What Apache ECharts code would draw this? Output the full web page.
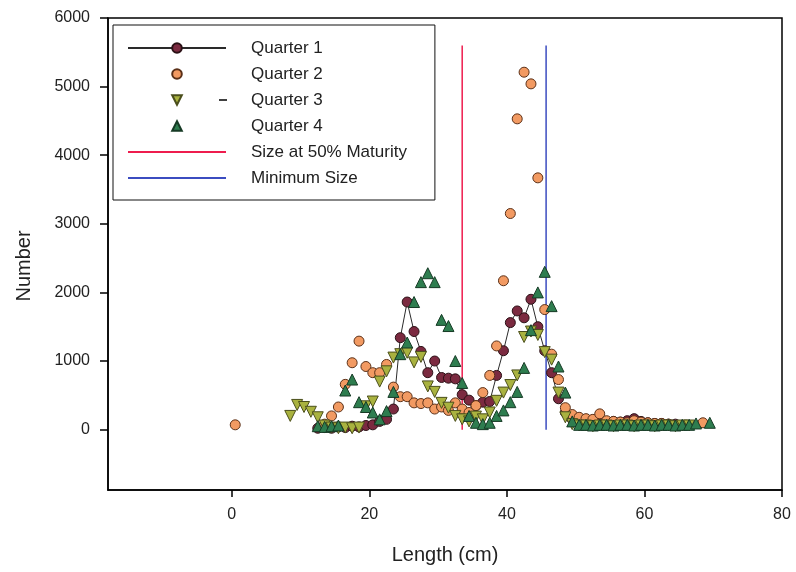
<!DOCTYPE html>
<html>
<head>
<meta charset="utf-8">
<script src="https://cdn.jsdelivr.net/npm/echarts@6/dist/echarts.min.js"></script>
<style>
  html, body { margin: 0; padding: 0; background: #fff; }
  #chart { width: 796px; height: 572px; }
</style>
</head>
<body>
<div id="chart"></div>
<script>
// length class (cm), number caught
const quarter1 = [
  [12.5, 20], [13.5, 30], [14.5, 20], [15.5, 40], [16.5, 30], [17.5, 50], [18.5, 40],
  [19.5, 60], [20.5, 70], [21.5, 120], [22.5, 150], [23.5, 300], [24.5, 1340], [25.5, 1860],
  [26.5, 1430], [27.5, 1140], [28.5, 830], [29.5, 1000], [30.5, 760], [31.5, 750],
  [32.5, 740], [33.5, 510], [34.5, 430], [35.5, 350], [36.5, 400], [37.5, 410],
  [38.5, 790], [39.5, 1150], [40.5, 1560], [41.5, 1730], [42.5, 1630], [43.5, 1900],
  [44.5, 1500], [45.5, 1150], [46.5, 830], [47.5, 450], [48.5, 250], [49.5, 150],
  [50.5, 120], [51.5, 110], [52.5, 100], [53.5, 100], [54.5, 110], [55.5, 120],
  [56.5, 110], [57.5, 130], [58.5, 160], [59.5, 120], [60.5, 100], [61.5, 90],
  [62.5, 90], [63.5, 80], [64.5, 80]
];
const quarter2 = [
  [0.5, 70], [13.5, 80], [14.5, 200], [15.5, 330], [16.5, 660], [17.5, 975], [18.5, 1290],
  [19.5, 920], [20.5, 830], [21.5, 830], [22.5, 950], [23.5, 620], [24.5, 480], [25.5, 480],
  [26.5, 390], [27.5, 380], [28.5, 390], [29.5, 300], [30.5, 330], [31.5, 280],
  [32.5, 390], [33.5, 300], [34.5, 250], [35.5, 350], [36.5, 540], [37.5, 790],
  [38.5, 1220], [39.5, 2170], [40.5, 3150], [41.5, 4530], [42.5, 5210], [43.5, 5040],
  [44.5, 3670], [45.5, 1750], [46.5, 1100], [47.5, 730], [48.5, 320], [49.5, 220],
  [50.5, 180], [51.5, 160], [52.5, 150], [53.5, 230], [54.5, 130], [55.5, 120],
  [56.5, 110], [57.5, 100], [58.5, 130], [59.5, 110], [60.5, 100], [61.5, 90],
  [62.5, 90], [63.5, 80], [68.5, 100]
];
const quarter3 = [
  [8.5, 200], [9.5, 360], [10.5, 330], [11.5, 260], [12.5, 180], [13.5, 60], [14.5, 30],
  [15.5, 20], [16.5, 30], [17.5, 20], [18.5, 30], [19.5, 340], [20.5, 410], [21.5, 700],
  [22.5, 850], [23.5, 1050], [24.5, 1100], [25.5, 1120], [26.5, 980], [27.5, 1060],
  [28.5, 630], [29.5, 550], [30.5, 390], [31.5, 320], [32.5, 200], [33.5, 150],
  [34.5, 120], [35.5, 190], [36.5, 150], [37.5, 250], [38.5, 420], [39.5, 540],
  [40.5, 650], [41.5, 790], [42.5, 1350], [43.5, 1430], [44.5, 1380], [45.5, 1130],
  [46.5, 1020], [47.5, 540], [48.5, 180], [49.5, 80], [50.5, 60], [51.5, 60], [52.5, 50],
  [53.5, 60], [54.5, 60], [55.5, 50], [56.5, 60], [57.5, 60], [58.5, 50], [59.5, 60],
  [60.5, 60], [61.5, 50], [62.5, 60], [63.5, 60], [64.5, 50], [65.5, 60], [66.5, 60]
];
const quarter4 = [
  [12.5, 50], [13.5, 40], [14.5, 50], [15.5, 60], [16.5, 570], [17.5, 730], [18.5, 400],
  [19.5, 330], [20.5, 250], [21.5, 150], [22.5, 270], [23.5, 550], [24.5, 1100],
  [25.5, 1270], [26.5, 1860], [27.5, 2150], [28.5, 2280], [29.5, 2150], [30.5, 1600],
  [31.5, 1510], [32.5, 1000], [33.5, 680], [34.5, 200], [35.5, 100], [36.5, 80],
  [37.5, 100], [38.5, 200], [39.5, 280], [40.5, 400], [41.5, 550], [42.5, 900],
  [43.5, 1450], [44.5, 2000], [45.5, 2300], [46.5, 1800], [47.5, 920], [48.5, 540],
  [49.5, 120], [50.5, 70], [51.5, 70], [52.5, 60], [53.5, 70], [54.5, 70], [55.5, 60],
  [56.5, 70], [57.5, 70], [58.5, 60], [59.5, 70], [60.5, 70], [61.5, 60], [62.5, 70],
  [63.5, 70], [64.5, 60], [65.5, 70], [66.5, 70], [67.5, 90], [69.5, 100]
];
const maturityLine = [[33.5, 0], [33.5, 5600]];
const minimumSizeLine = [[45.7, 0], [45.7, 5600]];
const xTicks = [0, 20, 40, 60, 80];
const yTicks = [0, 1000, 2000, 3000, 4000, 5000, 6000];

const font = "'Liberation Sans', Arial, sans-serif";
const chart = echarts.init(document.getElementById('chart'));

// markers only: a line series with a hidden line keeps the legend symbol undistorted
function markerSeries(name, data, symbol, rotate, size, fill, border) {
  return {
    name: name,
    type: 'line',
    data: data,
    symbol: symbol,
    symbolRotate: rotate,
    symbolSize: size,
    showAllSymbol: true,
    lineStyle: { opacity: 0, width: 0 },
    itemStyle: { color: fill, borderColor: border, borderWidth: 1 },
    emphasis: { disabled: true }
  };
}

chart.setOption({
  animation: false,
  textStyle: { fontFamily: font },
  grid: { left: 108, right: 14, top: 18, bottom: 82, show: true, borderColor: '#000', borderWidth: 1.5 },
  legend: {
    orient: 'vertical',
    left: 113,
    top: 25,
    padding: [10, 28, 9, 14],
    borderColor: '#111',
    borderWidth: 1,
    itemWidth: 98,
    itemHeight: 12,
    itemGap: 0,
    selectedMode: false,
    textStyle: { fontFamily: font, fontSize: 17, lineHeight: 26, color: '#222', padding: [0, 0, 0, 20] },
    data: [
      'Quarter 1', 'Quarter 2', 'Quarter 3', 'Quarter 4',
      { name: 'Size at 50% Maturity', itemStyle: { color: 'rgba(0,0,0,0)', borderWidth: 0 } },
      { name: 'Minimum Size', itemStyle: { color: 'rgba(0,0,0,0)', borderWidth: 0 } }
    ]
  },
  graphic: [
    { type: 'line', shape: { x1: 219, y1: 100, x2: 227, y2: 100 }, style: { stroke: '#000', lineWidth: 1.5 } }
  ],
  xAxis: {
    type: 'value',
    min: -18,
    max: 80,
    name: 'Length (cm)',
    nameLocation: 'middle',
    nameGap: 55,
    nameTextStyle: { fontFamily: font, fontSize: 20, color: '#222' },
    splitLine: { show: false },
    axisLine: { onZero: false, lineStyle: { color: '#000', width: 1.5 } },
    axisTick: { customValues: xTicks, length: 7, lineStyle: { color: '#000', width: 1.5 } },
    axisLabel: { customValues: xTicks, fontSize: 16, color: '#222', margin: 17 }
  },
  yAxis: {
    type: 'value',
    min: -880,
    max: 6000,
    name: 'Number',
    nameLocation: 'middle',
    nameGap: 74,
    nameTextStyle: { fontFamily: font, fontSize: 20, color: '#222', padding: [0, 24, 0, 0] },
    splitLine: { show: false },
    axisLine: { onZero: false, lineStyle: { color: '#000', width: 1.5 } },
    axisTick: { customValues: yTicks, length: 8, lineStyle: { color: '#000', width: 1.5 } },
    axisLabel: { customValues: yTicks, fontSize: 16, color: '#222', margin: 18, formatter: v => String(v) }
  },
  series: [
    {
      name: 'Quarter 1',
      type: 'line',
      data: quarter1,
      symbol: 'circle',
      symbolSize: 10,
      showAllSymbol: true,
      lineStyle: { color: '#2a2a2a', width: 1 },
      itemStyle: { color: '#7b2a40', borderColor: '#2a1015', borderWidth: 1 },
      emphasis: { disabled: true }
    },
    markerSeries('Quarter 2', quarter2, 'circle', 0, 10, '#f29a62', '#5a3018'),
    markerSeries('Quarter 3', quarter3, 'triangle', 180, 11, '#a9b23f', '#4b4f1c'),
    markerSeries('Quarter 4', quarter4, 'triangle', 0, 11, '#2e7d4f', '#163a25'),
    {
      name: 'Size at 50% Maturity',
      type: 'line',
      data: maturityLine,
      symbol: 'none',
      lineStyle: { color: '#ee1c4e', width: 1.5 },
      itemStyle: { color: '#ee1c4e' },
      emphasis: { disabled: true }
    },
    {
      name: 'Minimum Size',
      type: 'line',
      data: minimumSizeLine,
      symbol: 'none',
      lineStyle: { color: '#3b4cc0', width: 1.5 },
      itemStyle: { color: '#3b4cc0' },
      emphasis: { disabled: true }
    }
  ]
});
</script>
</body>
</html>
